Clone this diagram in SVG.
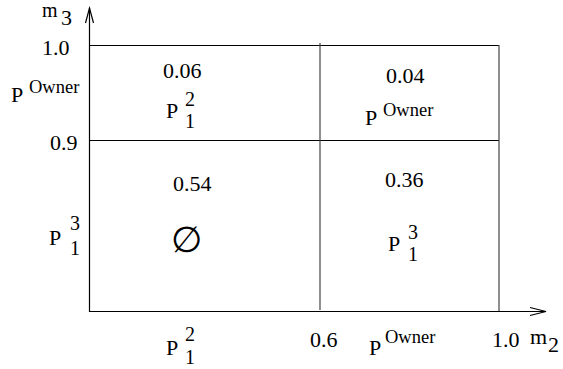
<svg xmlns="http://www.w3.org/2000/svg" width="563" height="369" viewBox="0 0 563 369" font-family="'Liberation Serif', 'Times New Roman', 'DejaVu Serif', serif">
<style>
text{font-family:'Liberation Serif','Times New Roman','DejaVu Serif',serif;fill:#000}
.t{font-size:22px}
.d{font-size:20px}
.o{font-size:18.5px}
.ln{stroke:#000;stroke-width:1.2;fill:none}
.vl{stroke:#444;stroke-width:1.2;fill:none}
</style>
<rect width="563" height="369" fill="#fff"/>
<g id="connectors">
<line class="ln" x1="89.5" y1="312" x2="89.5" y2="8"/>
<polyline class="ln" points="85.5,23 89.5,8 93.5,23"/>
<line class="ln" x1="89" y1="311.5" x2="546" y2="311.5"/>
<polyline class="ln" points="530,307.5 546,311.5 530,315.5"/>
<line class="ln" x1="89" y1="45.5" x2="499" y2="45.5"/>
<line class="ln" x1="89" y1="140.5" x2="499" y2="140.5"/>
<line class="vl" x1="320" y1="43" x2="320" y2="310"/>
<line class="vl" x1="499" y1="45" x2="499" y2="311"/>
</g>
<g id="axis-labels">
<text class="d" x="42" y="17">m</text><text class="t" x="61" y="25">3</text>
<text class="t" x="42" y="55">1.0</text>
<text class="t" x="11" y="102">P</text><text class="o" x="29" y="93">Owner</text>
<text class="t" x="50" y="150">0.9</text>
<text class="t" x="49" y="245">P</text><text class="d" x="70" y="230">3</text><text class="d" x="70" y="255">1</text>
<text class="t" x="166" y="355">P</text><text class="d" x="185" y="341">2</text><text class="d" x="185" y="364">1</text>
<text class="t" x="310" y="347">0.6</text>
<text class="t" x="369" y="355">P</text><text class="o" x="385" y="343">Owner</text>
<text class="t" x="492" y="347">1.0</text>
<text class="t" x="530" y="344">m</text><text class="t" x="548" y="352">2</text>
</g>
<g id="cell-top-left">
<text class="t" x="163" y="78">0.06</text>
<text class="t" x="166" y="118">P</text><text class="d" x="185" y="106">2</text><text class="d" x="185" y="128">1</text>
</g>
<g id="cell-top-right">
<text class="t" x="386" y="83">0.04</text>
<text class="t" x="365" y="125">P</text><text class="o" x="383" y="116">Owner</text>
</g>
<g id="cell-bottom-left">
<text class="t" x="173" y="191">0.54</text>
<text x="186" y="252" style="font-family:'DejaVu Sans',sans-serif;font-size:36px;font-weight:200" text-anchor="middle">∅</text>
</g>
<g id="cell-bottom-right">
<text class="t" x="385" y="187">0.36</text>
<text class="t" x="388" y="251">P</text><text class="d" x="408" y="239">3</text><text class="d" x="408" y="261">1</text>
</g>
</svg>
